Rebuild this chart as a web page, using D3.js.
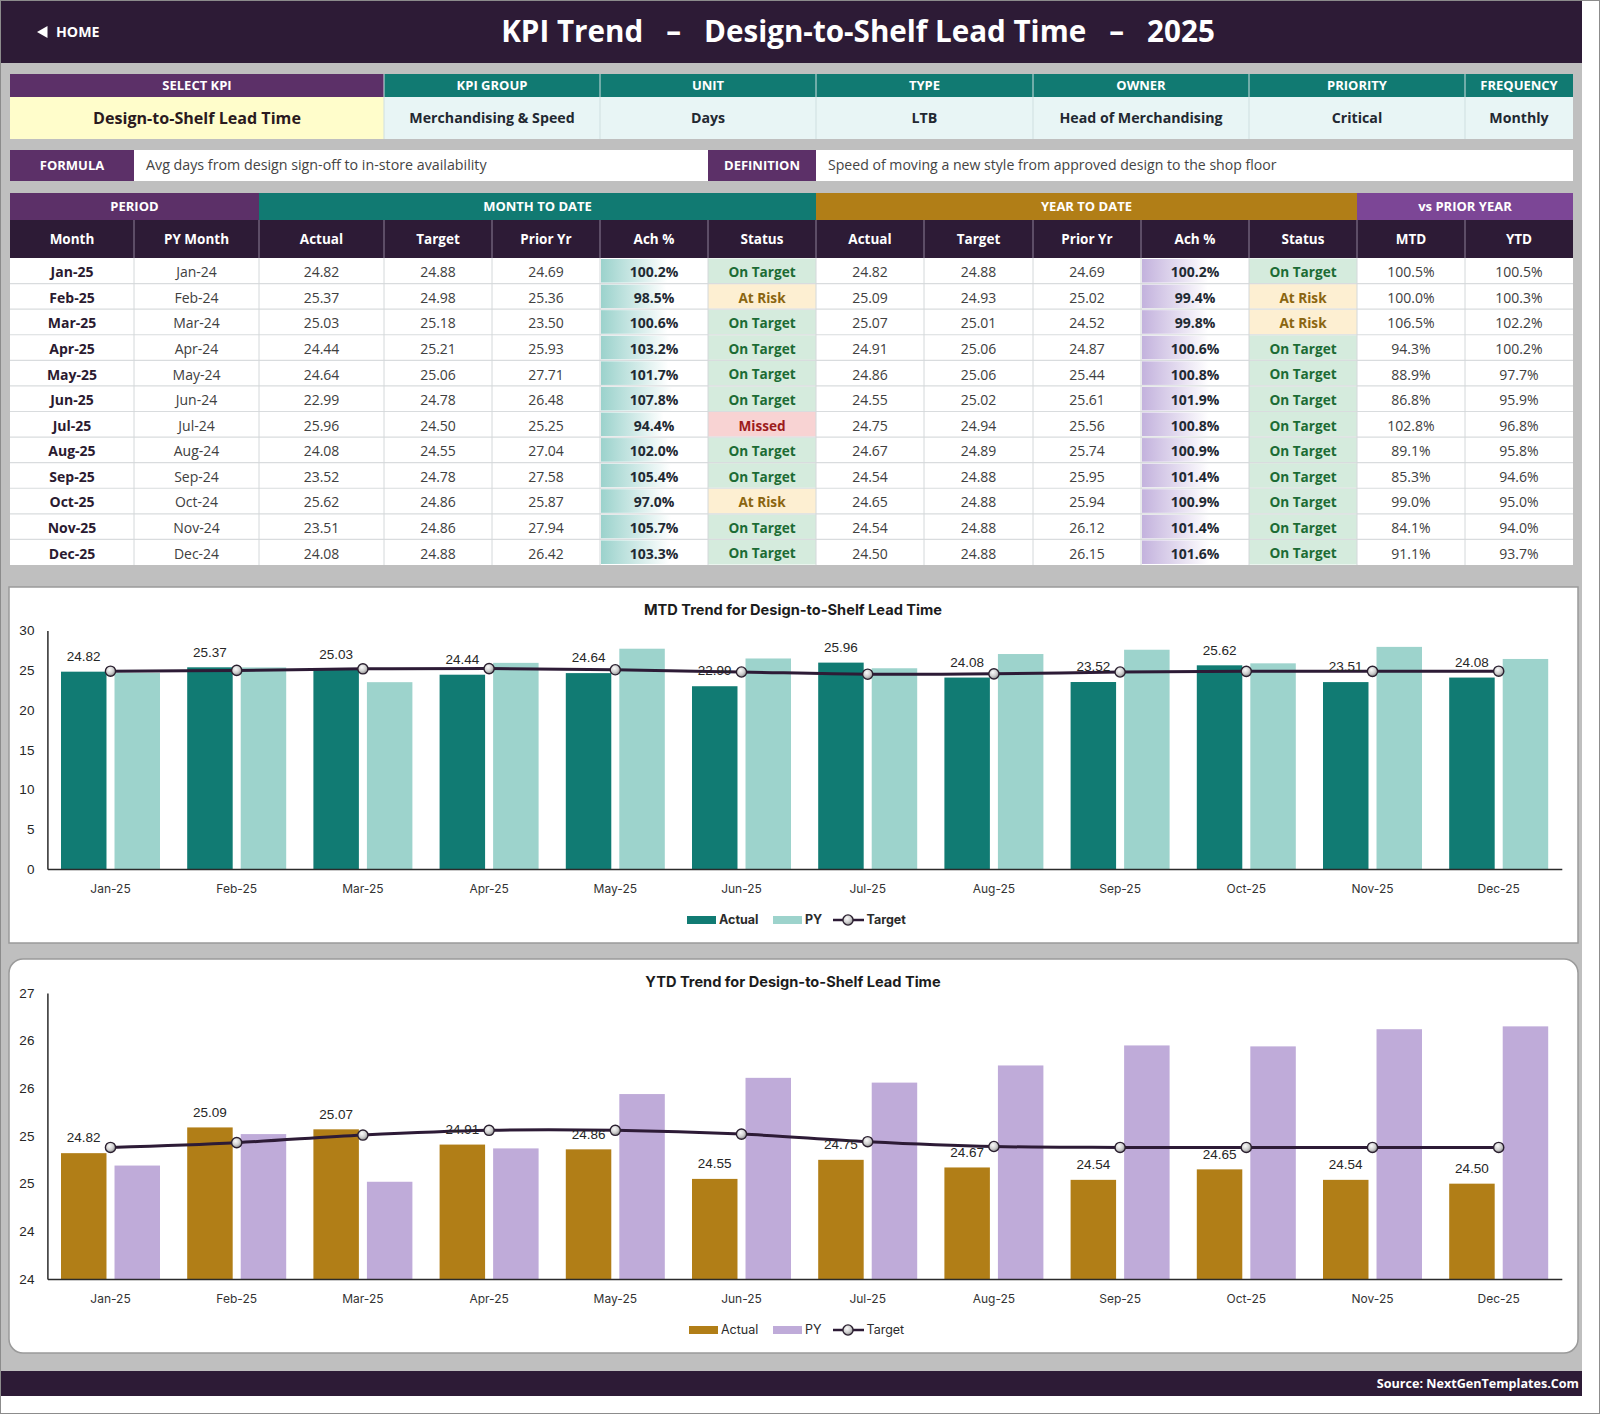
<!DOCTYPE html>
<html>
<head>
<meta charset="utf-8">
<script src="https://cdnjs.cloudflare.com/ajax/libs/d3/7.8.5/d3.min.js"></script>
<style>
  html, body { margin: 0; padding: 0; background: #fff; }
  svg { display: block; }
  text { white-space: pre; }
</style>
</head>
<body>
<div id="chart"></div>
<script>
// table + chart values
const months = ["Jan-25","Feb-25","Mar-25","Apr-25","May-25","Jun-25","Jul-25","Aug-25","Sep-25","Oct-25","Nov-25","Dec-25"];
const pyMonths = ["Jan-24","Feb-24","Mar-24","Apr-24","May-24","Jun-24","Jul-24","Aug-24","Sep-24","Oct-24","Nov-24","Dec-24"];

const mtdActual = [24.82,25.37,25.03,24.44,24.64,22.99,25.96,24.08,23.52,25.62,23.51,24.08];
const mtdTarget = [24.88,24.98,25.18,25.21,25.06,24.78,24.50,24.55,24.78,24.86,24.86,24.88];
const mtdPrior = [24.69,25.36,23.50,25.93,27.71,26.48,25.25,27.04,27.58,25.87,27.94,26.42];
const mtdAch = [100.2,98.5,100.6,103.2,101.7,107.8,94.4,102.0,105.4,97.0,105.7,103.3];
const mtdStatus = ["On Target","At Risk","On Target","On Target","On Target","On Target","Missed","On Target","On Target","At Risk","On Target","On Target"];

const ytdActual = [24.82,25.09,25.07,24.91,24.86,24.55,24.75,24.67,24.54,24.65,24.54,24.50];
const ytdTarget = [24.88,24.93,25.01,25.06,25.06,25.02,24.94,24.89,24.88,24.88,24.88,24.88];
const ytdPrior = [24.69,25.02,24.52,24.87,25.44,25.61,25.56,25.74,25.95,25.94,26.12,26.15];
const ytdAch = [100.2,99.4,99.8,100.6,100.8,101.9,100.8,100.9,101.4,100.9,101.4,101.6];
const ytdStatus = ["On Target","At Risk","At Risk","On Target","On Target","On Target","On Target","On Target","On Target","On Target","On Target","On Target"];

const vsMtd = [100.5,100.0,106.5,94.3,88.9,86.8,102.8,89.1,85.3,99.0,84.1,91.1];
const vsYtd = [100.5,100.3,102.2,100.2,97.7,95.9,96.8,95.8,94.6,95.0,94.0,93.7];

const infoLabels = ["SELECT KPI","KPI GROUP","UNIT","TYPE","OWNER","PRIORITY","FREQUENCY"];
const infoValues = ["Design-to-Shelf Lead Time","Merchandising & Speed","Days","LTB","Head of Merchandising","Critical","Monthly"];
const columnHeads = ["Month","PY Month","Actual","Target","Prior Yr","Ach %","Status","Actual","Target","Prior Yr","Ach %","Status","MTD","YTD"];
const mtdTicks = [0,5,10,15,20,25,30];
const ytdTicks = [23.5,24,24.5,25,25.5,26,26.5];

const DARK = "#2d1b36", PURPLE = "#5c3068", TEAL = "#117a72", GOLD = "#b17e17", VIOLET = "#7c4696", GREY = "#bfbfbf";
const UI = "'Open Sans', sans-serif";
const CHART_FONT = "'Liberation Sans', Arial, sans-serif";
const PLEX = "Inter, sans-serif";

// column edges of the sheet
const xs = [10,134,259,384,492,600,708,816,924,1033,1141,1249,1357,1465,1573];

const svg = d3.select("#chart").append("svg").attr("width", 1600).attr("height", 1414);
const defs = svg.append("defs");

function addBarGradient(id, color) {
    let g = defs.append("linearGradient").attr("id", id);
    g.append("stop").attr("offset", "0%").attr("stop-color", color);
    g.append("stop").attr("offset", "100%").attr("stop-color", "#fff");
}
addBarGradient("tealBar", "#9bd2cc");
addBarGradient("purpleBar", "#c3b2dd");

let ball = defs.append("radialGradient").attr("id", "ball").attr("cx", "40%").attr("cy", "35%").attr("r", "70%");
ball.append("stop").attr("offset", "0%").attr("stop-color", "#fafafa");
ball.append("stop").attr("offset", "55%").attr("stop-color", "#cfcfcf");
ball.append("stop").attr("offset", "100%").attr("stop-color", "#808080");

function box(x, y, w, h, fill) {
    return svg.append("rect").attr("x", x).attr("y", y).attr("width", w).attr("height", h).attr("fill", fill);
}

function label(x, y, str, size, color, weight, anchor, font) {
    return svg.append("text")
        .attr("x", x).attr("y", y)
        .attr("dy", "0.35em")
        .attr("text-anchor", anchor || "middle")
        .attr("font-family", font || UI)
        .attr("font-size", size)
        .attr("font-weight", weight || 400)
        .attr("fill", color)
        .text(str);
}

function vline(x, y1, y2, color) {
    svg.append("line").attr("x1", x).attr("x2", x).attr("y1", y1).attr("y2", y2)
        .attr("stroke", color).attr("stroke-width", 1);
}

// page
box(1, 1, 1581, 1395, GREY);
svg.append("rect").attr("x", 0.5).attr("y", 0.5).attr("width", 1599).attr("height", 1413)
    .attr("fill", "none").attr("stroke", "#8c8c8c");

// title band
box(1, 1, 1581, 62, DARK);
svg.append("path").attr("d", "M37 32 L47.5 26 L47.5 38 Z").attr("fill", "#fff");
label(56, 32, "HOME", 14.2, "#fff", 700, "start");
label(858, 32, "KPI Trend   \u2013   Design-to-Shelf Lead Time   \u2013   2025", 29.6, "#fff", 700);

// KPI info strip
const infoEdges = [10,384,600,816,1033,1249,1465,1573];
infoLabels.forEach(function (d, i) {
    let x0 = infoEdges[i], x1 = infoEdges[i + 1], mid = (x0 + x1) / 2;
    box(x0, 74, x1 - x0, 23, i == 0 ? PURPLE : TEAL);
    label(mid, 85.5, d, 13, "#fff", 700);
    box(x0, 97, x1 - x0, 42, i == 0 ? "#fffdcb" : "#e8f5f5");
    label(mid, 118, infoValues[i], i == 0 ? 16.1 : 14.2, i == 0 ? "#2a1a20" : "#222831", 700);
    if (i > 0) vline(x0, 74, 139, "#cfdfe0");
});

// formula / definition strip
box(10, 150, 124, 31, PURPLE);
label(72, 165.5, "FORMULA", 13, "#fff", 700);
box(134, 150, 574, 31, "#fff");
label(146, 165.5, "Avg days from design sign-off to in-store availability", 14.25, "#444", 400, "start");
box(708, 150, 108, 31, PURPLE);
label(762, 165.5, "DEFINITION", 13, "#fff", 700);
box(816, 150, 757, 31, "#fff");
label(828, 165.5, "Speed of moving a new style from approved design to the shop floor", 14.1, "#444", 400, "start");

// table group heads
const groupHeads = [
    {name: "PERIOD", x0: 10, x1: 259, fill: PURPLE},
    {name: "MONTH TO DATE", x0: 259, x1: 816, fill: TEAL},
    {name: "YEAR TO DATE", x0: 816, x1: 1357, fill: GOLD},
    {name: "vs PRIOR YEAR", x0: 1357, x1: 1573, fill: VIOLET}
];
groupHeads.forEach(function (d) {
    box(d.x0, 193, d.x1 - d.x0, 27, d.fill);
    label((d.x0 + d.x1) / 2, 206.5, d.name, 13, "#fff", 700);
});

// column heads
box(10, 220, 1563, 38, DARK);
columnHeads.forEach(function (d, i) {
    label((xs[i] + xs[i + 1]) / 2, 239, d, 13.5, "#fff", 700);
    if (i > 0) vline(xs[i], 220, 258, "#8d8097");
});

// table body
const rowY = d3.scaleBand().domain(months).range([258, 565]);
const achWidth = d3.scaleLinear().domain([0, 163]).range([0, 108]);

const statusStyle = {
    "On Target": {bg: "#d5ebdd", fg: "#1c6b34"},
    "At Risk": {bg: "#fdefd2", fg: "#8a6510"},
    "Missed": {bg: "#f8d3d3", fg: "#9c1c1c"}
};
const pct = d => d.toFixed(1) + "%";
const num = d => d.toFixed(2);

box(10, 258, 1563, 307, "#fff");

months.forEach(function (m, i) {
    let top = rowY(m), h = rowY.bandwidth(), cy = top + h / 2 + 1.5;
    function center(col) { return (xs[col] + xs[col + 1]) / 2; }
    function plain(col, str) { label(center(col), cy, str, 14, "#404040"); }
    function dataBar(col, val, grad) {
        box(xs[col] + 1, top + 1, achWidth(val), h - 2, "url(#" + grad + ")");
        label(center(col), cy, pct(val), 14, "#1f2a33", 700);
    }
    function status(col, val) {
        let s = statusStyle[val];
        box(xs[col], top + 0.5, xs[col + 1] - xs[col], h - 1, s.bg);
        label(center(col), cy, val, 13.6, s.fg, 700);
    }
    label(center(0), cy, m, 14, "#2a1a30", 700);
    plain(1, pyMonths[i]);
    plain(2, num(mtdActual[i]));
    plain(3, num(mtdTarget[i]));
    plain(4, num(mtdPrior[i]));
    dataBar(5, mtdAch[i], "tealBar");
    status(6, mtdStatus[i]);
    plain(7, num(ytdActual[i]));
    plain(8, num(ytdTarget[i]));
    plain(9, num(ytdPrior[i]));
    dataBar(10, ytdAch[i], "purpleBar");
    status(11, ytdStatus[i]);
    plain(12, pct(vsMtd[i]));
    plain(13, pct(vsYtd[i]));
});

// grid lines over the body
months.forEach(function (m, i) {
    if (i == 0) return;
    svg.append("line").attr("x1", 10).attr("x2", 1573).attr("y1", rowY(m)).attr("y2", rowY(m))
        .attr("stroke", "#d9dcde").attr("stroke-width", 1.2);
});
xs.slice(1, -1).forEach(function (x) { vline(x, 258, 565, "#d4d8da"); });

function drawChart(cfg) {
    // panel
    svg.append("rect")
        .attr("x", 9).attr("y", cfg.panelTop)
        .attr("width", 1569).attr("height", cfg.panelBottom - cfg.panelTop)
        .attr("rx", cfg.radius).attr("ry", cfg.radius)
        .attr("fill", "#fff").attr("stroke", "#9a9a9a").attr("stroke-width", 1.5);

    label(793, cfg.titleY, cfg.title, 14.6, "#1c1c1c", 700, "middle", PLEX);

    let x = d3.scaleBand().domain(months).range([47.4, 1561.8]);
    let inner = x.bandwidth();
    let x1 = d3.scaleBand().domain(["actual", "py"]).range([inner / 2 - 49.5, inner / 2 + 49.5]).paddingInner(0.15);
    let y = d3.scaleLinear().domain(cfg.domain).range([cfg.baseY, cfg.topY]);

    // bars
    let groups = svg.append("g").selectAll("g").data(months).enter().append("g")
        .attr("transform", function (d) { return "translate(" + x(d) + ",0)"; });
    groups.append("rect")
        .attr("x", x1("actual")).attr("width", x1.bandwidth())
        .attr("y", (d, i) => y(cfg.actual[i]))
        .attr("height", (d, i) => cfg.baseY - y(cfg.actual[i]))
        .attr("fill", cfg.actualColor);
    groups.append("rect")
        .attr("x", x1("py")).attr("width", x1.bandwidth())
        .attr("y", (d, i) => y(cfg.prior[i]))
        .attr("height", (d, i) => cfg.baseY - y(cfg.prior[i]))
        .attr("fill", cfg.priorColor);

    // axes
    let yAxis = d3.axisLeft(y).tickValues(cfg.ticks).tickSize(0).tickPadding(13)
        .tickFormat(d => String(Math.round(d)));
    let yG = svg.append("g").attr("transform", "translate(47.4,0)").call(yAxis);
    yG.select(".domain").attr("stroke", "#2b2b2b").attr("stroke-width", 1.5);
    yG.selectAll("text").attr("font-family", CHART_FONT).attr("font-size", 13.5).attr("fill", "#262626");

    let xAxis = d3.axisBottom(x).tickSize(0).tickPadding(15.5);
    let xG = svg.append("g").attr("transform", "translate(0," + cfg.baseY + ")").call(xAxis);
    xG.select(".domain").attr("stroke", "#2b2b2b").attr("stroke-width", 1.5);
    xG.selectAll("text").attr("font-family", PLEX).attr("font-size", 12).attr("fill", "#333");

    // target line
    let cx = d => x(d) + inner / 2;
    let line = d3.line().x((d, i) => cx(months[i])).y(d => y(d)).curve(d3.curveCatmullRom);
    svg.append("path").attr("d", line(cfg.target))
        .attr("fill", "none").attr("stroke", DARK).attr("stroke-width", 3);
    svg.append("g").selectAll("circle").data(cfg.target).enter().append("circle")
        .attr("cx", (d, i) => cx(months[i])).attr("cy", d => y(d)).attr("r", 5.1)
        .attr("fill", "url(#ball)").attr("stroke", "#2b2030").attr("stroke-width", 1.4);

    // labels above the actual bars
    svg.append("g").selectAll("text").data(cfg.actual).enter().append("text")
        .attr("x", (d, i) => x(months[i]) + x1("actual") + x1.bandwidth() / 2)
        .attr("y", d => y(d) - 15.5)
        .attr("dy", "0.35em")
        .attr("text-anchor", "middle")
        .attr("font-family", CHART_FONT).attr("font-size", 13.5).attr("fill", "#262626")
        .text(d => d.toFixed(2));

    // legend
    let lw = cfg.legendBold ? 700 : 400, ly = cfg.legendY;
    box(cfg.legendX, ly - 4, 29, 8, cfg.actualColor);
    label(cfg.legendX + 32, ly, "Actual", 12.5, "#2b2b2b", lw, "start", PLEX);
    box(773, ly - 4, 29, 8, cfg.priorColor);
    label(805, ly, "PY", 12.5, "#2b2b2b", lw, "start", PLEX);
    svg.append("line").attr("x1", 833).attr("x2", 864).attr("y1", ly).attr("y2", ly)
        .attr("stroke", DARK).attr("stroke-width", 2.5);
    svg.append("circle").attr("cx", 848).attr("cy", ly).attr("r", 5.1)
        .attr("fill", "url(#ball)").attr("stroke", "#2b2030").attr("stroke-width", 1.4);
    label(866.5, ly, "Target", 12.5, "#2b2b2b", lw, "start", PLEX);
}

drawChart({
    panelTop: 587, panelBottom: 943, radius: 0,
    title: "MTD Trend for Design-to-Shelf Lead Time", titleY: 610,
    domain: [0, 30], ticks: mtdTicks, baseY: 869, topY: 630.5,
    actual: mtdActual, target: mtdTarget, prior: mtdPrior,
    actualColor: "#117b73", priorColor: "#9dd3cc",
    legendX: 687, legendY: 920, legendBold: true
});

drawChart({
    panelTop: 959, panelBottom: 1353, radius: 14,
    title: "YTD Trend for Design-to-Shelf Lead Time", titleY: 982,
    domain: [23.5, 26.5], ticks: ytdTicks, baseY: 1279, topY: 993,
    actual: ytdActual, target: ytdTarget, prior: ytdPrior,
    actualColor: "#b17e17", priorColor: "#bfabd9",
    legendX: 689, legendY: 1330, legendBold: false
});

// footer
box(1, 1371, 1581, 25, DARK);
label(1579, 1383.5, "Source: NextGenTemplates.Com", 12.6, "#fff", 700, "end");
</script>
</body>
</html>
